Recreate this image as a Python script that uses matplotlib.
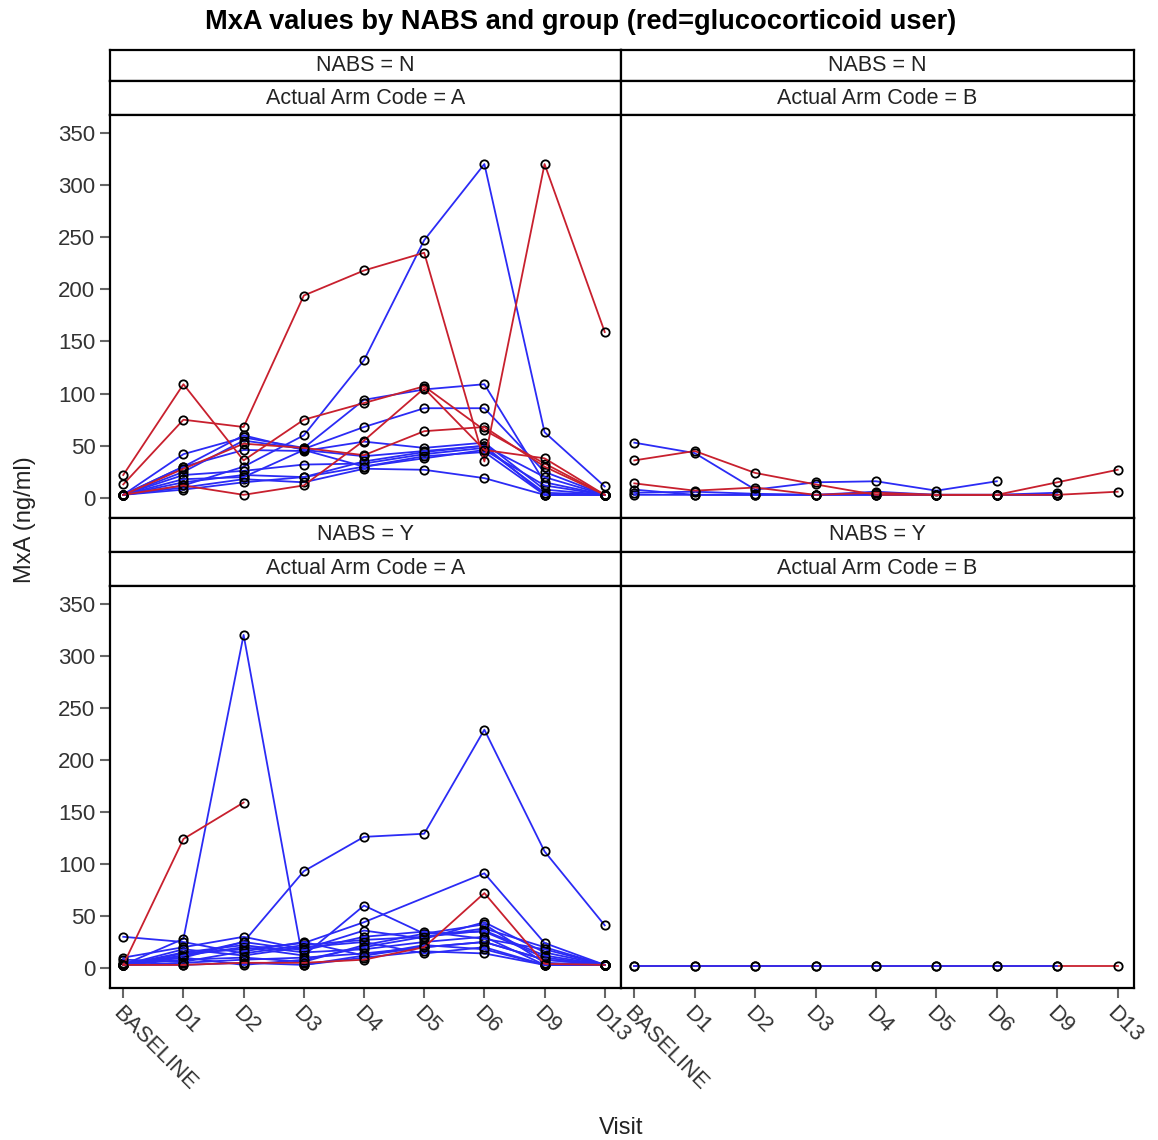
import numpy as np
import matplotlib
matplotlib.use("Agg")
import matplotlib.pyplot as plt

plt.rcParams['font.family'] = ['Liberation Sans', 'DejaVu Sans']

visits = ['BASELINE', 'D1', 'D2', 'D3', 'D4', 'D5', 'D6', 'D9', 'D13']
nan = np.nan

# NABS = N, Arm A
tl_blue = [
    [3, 12, 30, 60, 132, 247, 320, 63, 11],
    [3, 42, 58, 48, 94, 104, 109, 15, 3],
    [3, 25, 55, 47, 68, 86, 86, 25, 3],
    [3, 30, 46, 45, 54, 48, 53, 8, 3],
    [3, 22, 26, 32, 33, 42, 48, 5, 3],
    [3, 15, 22, 20, 30, 38, 46, 12, 3],
    [3, 10, 18, 15, 28, 27, 19, 3, 3],
    [3, 8, 15, 20, 35, 44, 50, 20, 3],
    [3, 30, 60, 46, 30, 40, 44, 3, 3],
    [3, 18, 20, 46, 40, 45, 50, 3, 3],
]
tl_red = [
    [13, 75, 68, 194, 218, 235, 35, 320, 159],
    [22, 109, 36, 75, 91, 107, 65, 33, 3],
    [3, 28, 52, 48, 41, 64, 68, 30, 3],
    [3, 12, 3, 12, 55, 105, 46, 38, 3],
]

# NABS = N, Arm B
tr_blue = [
    [53, 43, 8, 15, 16, 7, 16, nan, nan],
    [8, 3, 3, 3, 3, 3, 3, 3, nan],
    [3, 3, 3, 3, 6, 3, 3, 5, nan],
    [5, 6, 4, 3, 3, 3, 3, 3, nan],
]
tr_red = [
    [36, 45, 24, 13, 3, 3, 3, 15, 27],
    [14, 7, 10, 3, 5, 3, 3, 3, 6],
]

# NABS = Y, Arm A
bl_blue = [
    [3, 28, 320, 3, 12, 20, 25, 8, 3],
    [5, 10, 25, 93, 126, 129, 229, 112, 41],
    [30, 25, 14, 22, 27, 30, 38, 20, 3],
    [3, 12, 20, 12, 60, 33, 35, 10, 3],
    [3, 14, 18, 24, 44, nan, 91, 24, 3],
    [10, 20, 30, 18, 36, 28, 44, 15, 3],
    [3, 8, 10, 6, 22, 33, 42, 5, 3],
    [3, 15, 22, 15, 18, 25, 30, 3, 3],
    [3, 5, 8, 10, 14, 20, 25, 8, 3],
    [3, 18, 12, 20, 25, 14, 20, 3, 3],
    [3, 3, 5, 3, 10, 16, 14, 3, 3],
    [3, 10, 3, 8, 20, 30, 36, 12, 3],
    [8, 6, 16, 25, 12, 22, 18, 3, 3],
    [3, 12, 25, 17, 30, 35, 28, 18, 3],
]
bl_red = [
    [3, 124, 159, nan, nan, nan, nan, nan, nan],
    [3, 3, 5, 5, 8, 20, 72, 4, 3],
]

# NABS = Y, Arm B
br_blue = [
    [2, 2, 2, 2, 2, 2, 2, 2, nan],
]
br_red = [
    [2, 2, 2, 2, 2, 2, 2, 2, 2],
]

BLUE = '#2B2BF5'
RED = '#C8202E'
W, H = 1158, 1140
fig = plt.figure(figsize=(W / 100, H / 100), dpi=100)

def frac(x0, y0, x1, y1):
    return [x0 / W, 1 - y1 / H, (x1 - x0) / W, (y1 - y0) / H]

xl, xm, xr = 110, 621, 1134
rows = [(50, 81, 115, 518), (518, 552, 586, 988)]
strip1 = ['NABS = N', 'NABS = Y']
strip2 = ['Actual Arm Code = A', 'Actual Arm Code = B']
panels = [[(tl_blue, tl_red), (tr_blue, tr_red)], [(bl_blue, bl_red), (br_blue, br_red)]]

xpos = np.arange(len(visits))

def draw(ax, series, color):
    for s in series:
        y = np.array(s, dtype=float)
        m = ~np.isnan(y)
        ax.plot(xpos[m], y[m], color=color, lw=1.3, marker='o', ms=6,
                mfc='none', mec='black', mew=1.3, zorder=3)

for r, (s1a, s1b, pa, pb) in enumerate(rows):
    for c, (x0, x1) in enumerate([(xl, xm), (xm, xr)]):
        for (ya, yb, txt) in [(s1a, s1b, strip1[r]), (s1b, pa, strip2[c])]:
            sa = fig.add_axes(frac(x0, ya, x1, yb))
            sa.set_xticks([]); sa.set_yticks([])
            for sp in sa.spines.values():
                sp.set_linewidth(1.6)
            sa.text(0.5, 0.5, txt, ha='center', va='center', fontsize=15.5,
                    color='#222222', transform=sa.transAxes)
        ax = fig.add_axes(frac(x0, pa, x1, pb))
        blue, red = panels[r][c]
        if r == 1 and c == 1:
            draw(ax, red, RED)
            draw(ax, blue, BLUE)
        else:
            draw(ax, blue, BLUE)
            draw(ax, red, RED)
        ax.set_xlim(-0.22, 8.27)
        ax.set_ylim(-19.2, 367)
        for sp in ax.spines.values():
            sp.set_linewidth(1.6)
        ax.tick_params(direction='out', length=7, width=1.5, color='#666666',
                       labelsize=16, labelcolor='#333333')
        ax.set_yticks(np.arange(0, 351, 50))
        ax.set_xticks(xpos)
        if c == 0:
            ax.set_yticklabels([str(v) for v in range(0, 351, 50)])
        else:
            ax.tick_params(axis='y', left=False, labelleft=False)
        if r == 1:
            ax.set_xticklabels(visits, rotation=-45, ha='left', va='top',
                               rotation_mode='anchor')
        else:
            ax.tick_params(axis='x', bottom=False, labelbottom=False)

fig.text(581 / W, 1 - 22 / H, 'MxA values by NABS and group (red=glucocorticoid user)',
         ha='center', va='center', fontsize=19.6, fontweight='bold', color='black')
fig.text(25 / W, 1 - 520 / H, 'MxA (ng/ml)', rotation=90, ha='center', va='center',
         fontsize=17, color='#222222')
fig.text(621 / W, 1 - 1128 / H, 'Visit', ha='center', va='center', fontsize=17,
         color='#222222')

fig.savefig('out.png', dpi=100)
